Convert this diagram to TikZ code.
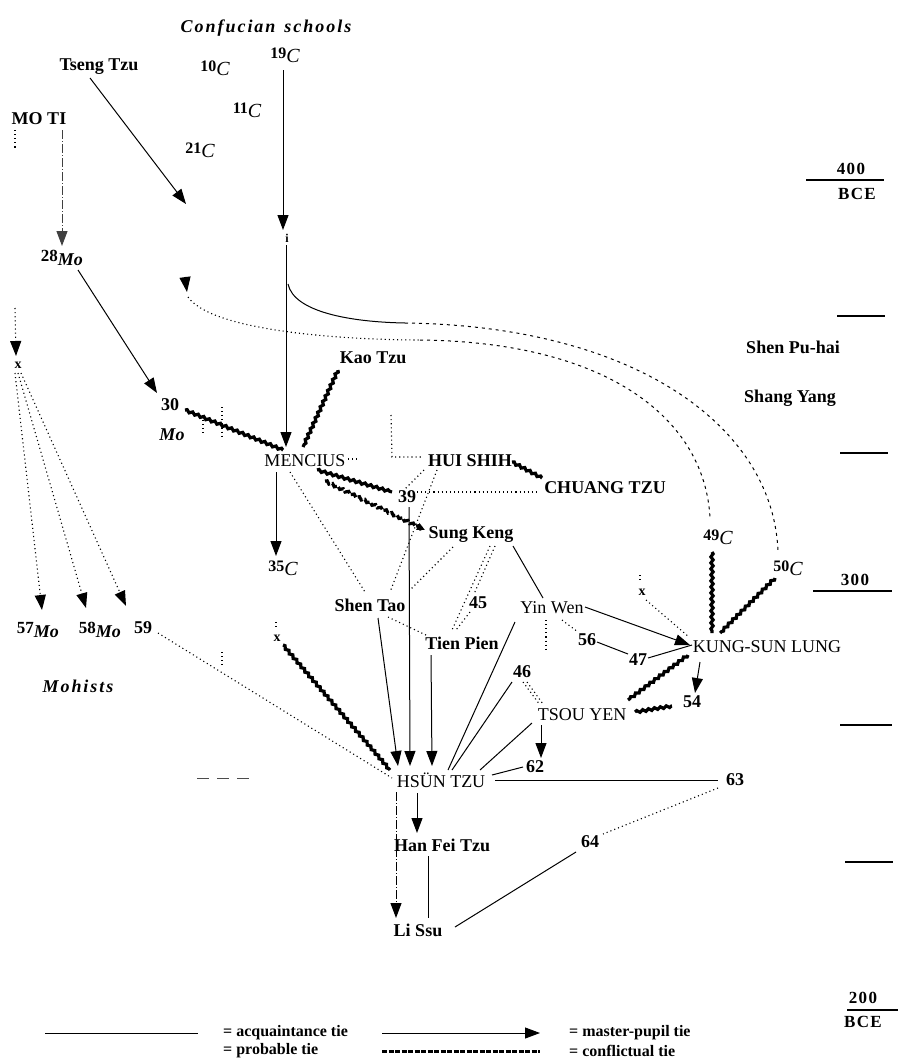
\documentclass[tikz,border=0pt]{standalone}
\usepackage{fontspec}
\setmainfont{Liberation Serif}
\usetikzlibrary{arrows.meta,decorations.pathmorphing,calc}
\newcommand\nf{\fontsize{18}{20}\selectfont}
\newcommand\bnf{\fontsize{18}{20}\selectfont\bfseries}
\newcommand\gen[2]{{\fontsize{16}{16}\selectfont\bfseries #1}\raisebox{-4pt}{\fontsize{20}{20}\selectfont\itshape #2}}
\newcommand\genm[2]{{\fontsize{17}{17}\selectfont\bfseries #1}\raisebox{-4pt}{\fontsize{18}{20}\selectfont\bfseries\itshape #2}}
\begin{document}
\begin{tikzpicture}[x=1pt,y=-1pt,
  every node/.style={inner sep=1pt},
  rn/.style={font=\nf},
  bn/.style={font=\bnf},
  xs/.style={font=\fontsize{14}{14}\selectfont\bfseries},
  spaced/.style={font=\fontsize{18}{20}\selectfont\bfseries\itshape\addfontfeature{LetterSpace=11}},
  scl/.style={font=\fontsize{17}{19}\selectfont\bfseries\addfontfeature{LetterSpace=8}},
  leg/.style={font=\fontsize{16}{17}\selectfont\bfseries, anchor=west},
  acq/.style={line width=1pt},
  mp/.style={line width=1pt,-{Triangle[length=15pt,width=11pt]}},
  prob/.style={line width=1.1pt,dash pattern=on 1.1pt off 3pt},
  probd/.style={line width=1pt,dash pattern=on 3pt off 4pt},
  dashdot/.style={line width=1pt,dash pattern=on 9pt off 2pt on 1pt off 2pt},
  conf/.style={line width=3.2pt,decorate,decoration={snake,amplitude=1.1pt,segment length=6pt}},
  scaletick/.style={line width=1.2pt}]
\useasboundingbox (0,0) rectangle (900,1060);

% ---------- nodes ----------
\node[spaced] (conf) at (266,28) {Confucian\enspace schools};
\node (c19) at (285,55) {\gen{19}{C}};
\node[bn] (tseng) at (99,67) {Tseng Tzu};
\node (c10) at (215,68) {\gen{10}{C}};
\node (c11) at (247,110) {\gen{11}{C}};
\node (c21) at (200,150) {\gen{21}{C}};
\node[bn] (moti) at (39,119) {MO TI};
\node (mo28) at (62,258) {\genm{28}{Mo}};
\node[font=\fontsize{12}{12}\selectfont\bfseries] (iota) at (287,238) {i};
\node[xs] (xa) at (18,365) {x};
\node[bn] (n30) at (170,405) {30};
\node[font=\fontsize{18}{20}\selectfont\bfseries\itshape] (mo30) at (172,435) {Mo};
\node[bn] (kao) at (373,358) {Kao Tzu};
\node[rn] (mencius) at (305,461) {MENCIUS};
\node[bn] (hui) at (470,461) {HUI SHIH};
\node[bn] (chuang) at (605,488) {CHUANG TZU};
\node[bn] (n39) at (407,497) {39};
\node[bn] (sung) at (471,535) {Sung Keng};
\node (c35) at (283,568) {\gen{35}{C}};
\node[bn] (shentao) at (370,605) {Shen Tao};
\node[bn] (n45) at (478,603) {45};
\node[bn] (tien) at (462,643) {Tien Pien};
\node[rn] (yin) at (552,608) {Yin Wen};
\node[bn] (n56) at (587,640) {56};
\node[bn] (n47) at (638,660) {47};
\node[rn] (ksl) at (767,647) {KUNG-SUN LUNG};
\node[xs] (xc) at (642,592) {x};
\node (c49) at (718,537) {\gen{49}{C}};
\node (c50) at (788,568) {\gen{50}{C}};
\node[bn] (n46) at (522,672) {46};
\node[rn] (tsou) at (582,715) {TSOU YEN};
\node[bn] (n54) at (692,702) {54};
\node[bn] (n62) at (535,767) {62};
\node[rn] (hsun) at (441,780) {HSÜN TZU};
\node[bn] (n63) at (735,780) {63};
\node[bn] (n64) at (590,842) {64};
\node[bn] (hanfei) at (442,845) {Han Fei Tzu};
\node[bn] (lissu) at (418,930) {Li Ssu};
\node[xs] (xb) at (277,638) {x};
\node (m57) at (38,630) {\genm{57}{Mo}};
\node (m58) at (100,630) {\genm{58}{Mo}};
\node[bn] (n59) at (143,628) {59};
\node[spaced] (mohists) at (78,686) {Mohists};
\node[bn] (shenpu) at (793,347) {Shen Pu-hai};
\node[bn] (shang) at (790,398) {Shang Yang};

% ---------- time scale ----------
\node[scl] (y400) at (851,169) {400};
\node[scl] (b400) at (857,194) {BCE};
\draw[scaletick] (806,180) -- (884,180);
\draw[scaletick] (837,316) -- (885,316);
\draw[scaletick] (840,453) -- (888,453);
\node[scl] (y300) at (855,580) {300};
\draw[scaletick] (813,591) -- (892,591);
\draw[scaletick] (840,725) -- (892,725);
\draw[scaletick] (845,862) -- (893,862);
\node[scl] (y200) at (863,998) {200};
\draw[scaletick] (847,1010) -- (898,1010);
\node[scl] (b200) at (863,1022) {BCE};
\draw[line width=1pt, black!70, dash pattern=on 12pt off 8pt] (197,778) -- (250,778);

% ---------- helper coordinates ----------
\coordinate (t21) at (186,204);
\coordinate (arcA) at (288,284);
\coordinate (arcB) at (405,323);
\coordinate (arcC0) at (185,277);
\coordinate (arcC) at (187,292);
\coordinate (arcD) at (420,340);

% ---------- connectors ----------
\draw[mp] ($(tseng)+(-9,11)$) -- (t21);
\draw[dashdot, black!75, -{Triangle[length=15pt,width=11pt]}] ($(moti)+(23,11)$) -- ($(mo28)+(0,-12)$);
\draw[prob] ($(moti)+(-24,11)$) -- ($(moti)+(-24,31)$);
\draw[mp] ($(c19)+(-2,15)$) -- ($(iota)+(-4,-8)$);
\draw[mp] ($(iota)+(-1,7)$) -- ($(mencius)+(-19,-14)$);

% long arcs
\draw[acq] (arcA) .. controls (294,312) and (350,322) .. (arcB);
\draw[probd] (arcB) .. controls (640,326) and (775,430) .. ($(c50)+(-10,-15)$);
\draw[mp] (arcC0) -- (arcC);
\draw[prob] ($(arcC)+(1,5)$) .. controls (215,335) and (370,340) .. (arcD);
\draw[probd] (arcD) .. controls (610,342) and (705,420) .. ($(c49)+(-8,-19)$);

\draw[mp] ($(mo28)+(16,12)$) -- ($(n30)+(-13,-12)$);
\draw[conf] ($(n30)+(15,5)$) -- ($(mencius)+(-22,-11)$);
\draw[conf] ($(kao)+(-35,12)$) -- ($(mencius)+(-2,-14)$);
\draw[mp] ($(mencius)+(-29,11)$) -- ($(c35)+(-7,-12)$);
\draw[prob] ($(mencius)+(43,-2)$) -- ($(mencius)+(55,-2)$);
\draw[prob] ($(hui)+(-79,-46)$) -- ($(hui)+(-78,-4)$) -- ($(hui)+(-48,-4)$);
\draw[conf] ($(hui)+(42,1)$) -- ($(chuang)+(-63,-10)$);
\draw[conf] ($(mencius)+(12,9)$) -- ($(n39)+(-15,-5)$);
\draw[conf, dash pattern=on 7pt off 2pt, -{Triangle[length=8pt,width=7pt]}] ($(mencius)+(20,20)$) -- ($(sung)+(-46,-5)$);
\draw[prob] ($(n39)+(10,-5)$) -- ($(chuang)+(-67,4)$);
\draw[prob] ($(hui)+(-46,9)$) -- ($(n39)+(-2,-8)$);
\draw[prob] ($(hui)+(-33,9)$) -- ($(shentao)+(20,-13)$);
\draw[mp] ($(n39)+(2,10)$) -- ($(hsun)+(-31,-14)$);
\draw[prob] ($(mencius)+(-15,11)$) -- ($(shentao)+(-5,-13)$);
\draw[prob] ($(sung)+(-18,12)$) -- ($(shentao)+(40,-15)$);
\draw[prob] ($(sung)+(19,11)$) -- ($(tien)+(-10,-13)$);
\draw[prob] ($(sung)+(24,11)$) -- ($(n45)+(-4,-9)$);
\draw[prob] ($(n45)+(-8,9)$) -- ($(tien)+(-6,-13)$);
\draw[acq] ($(sung)+(42,11)$) -- ($(yin)+(-9,-10)$);
\draw[prob] ($(shentao)+(18,12)$) -- ($(tien)+(-34,-7)$);
\draw[mp] ($(shentao)+(8,13)$) -- ($(hsun)+(-43,-14)$);
\draw[mp] ($(tien)+(-31,12)$) -- ($(hsun)+(-9,-14)$);
\draw[acq] ($(yin)+(-37,14)$) -- ($(hsun)+(7,-10)$);
\draw[acq] ($(n46)+(-10,10)$) -- ($(hsun)+(11,-10)$);
\draw[acq] ($(tsou)+(-50,8)$) -- ($(hsun)+(39,-10)$);
\draw[acq] ($(hsun)+(51,-5)$) -- ($(n62)+(-12,0)$);
\draw[mp] ($(tsou)+(-41,10)$) -- ($(n62)+(6,-9)$);
\draw[acq] ($(hsun)+(54,0)$) -- ($(n63)+(-17,0)$);
\draw[prob] ($(n63)+(-17,8)$) -- ($(n64)+(13,-8)$);
\draw[acq] ($(n64)+(-14,10)$) -- ($(lissu)+(37,-3)$);
\draw[mp] ($(hsun)+(-24,13)$) -- ($(hanfei)+(-25,-12)$);
\draw[dashdot, -{Triangle[length=15pt,width=11pt]}] ($(hsun)+(-45,12)$) -- ($(lissu)+(-22,-12)$);
\draw[acq] ($(hanfei)+(-14,11)$) -- ($(lissu)+(10,-12)$);
\draw[conf] ($(xb)+(6,7)$) -- ($(hsun)+(-51,-10)$);
\draw[prob] ($(xb)+(-1,-16)$) -- ($(xb)+(-1,-9)$);
\draw[prob] ($(n59)+(15,5)$) -- ($(hsun)+(-49,-2)$);
\draw[prob, -{Triangle[length=15pt,width=11pt]}] ($(xa)+(-3,8)$) -- ($(m57)+(4,-20)$);
\draw[prob, -{Triangle[length=15pt,width=11pt]}] ($(xa)+(0,8)$) -- ($(m58)+(-14,-22)$);
\draw[prob, -{Triangle[length=15pt,width=11pt]}] ($(xa)+(3,8)$) -- ($(n59)+(-17,-22)$);
\draw[prob, -{Triangle[length=15pt,width=11pt]}] ($(xa)+(-3,-57)$) -- ($(xa)+(-2,-9)$);
\draw[prob] ($(xc)+(4,8)$) -- ($(ksl)+(-78,-10)$);
\draw[prob] ($(xc)+(-2,-17)$) -- ($(xc)+(-2,-10)$);
\draw[mp] ($(yin)+(33,-1)$) -- ($(ksl)+(-77,-2)$);
\draw[prob] ($(yin)+(10,12)$) -- ($(n56)+(-9,-8)$);
\draw[acq] ($(n56)+(10,2)$) -- ($(n47)+(-10,-6)$);
\draw[acq] ($(n47)+(10,-2)$) -- ($(ksl)+(-75,-2)$);
\draw[conf] ($(c49)+(-6,15)$) -- ($(ksl)+(-55,-14)$);
\draw[conf] ($(c50)+(-13,10)$) -- ($(ksl)+(-47,-14)$);
\draw[conf] ($(ksl)+(-79,8)$) -- ($(tsou)+(46,-15)$);
\draw[mp] ($(ksl)+(-67,15)$) -- ($(n54)+(3,-9)$);
\draw[conf] ($(tsou)+(53,-3)$) -- ($(n54)+(-20,4)$);
\draw[prob] ($(n46)+(1,10)$) -- ($(tsou)+(-42,-10)$);
\draw[prob] ($(n46)+(5,10)$) -- ($(tsou)+(-39,-11)$);
\draw[prob] ($(yin)+(-6,12)$) -- ($(yin)+(-6,42)$);
\draw[prob] ($(n30)+(33,15)$) -- ($(n30)+(33,28)$);
\draw[prob] ($(n30)+(52,2)$) -- ($(n30)+(52,31)$);
\draw[prob] ($(n59)+(79,24)$) -- ($(n59)+(79,40)$);

% ---------- legend ----------
\node[leg] (lacq) at (222,1033) {= acquaintance tie};
\node[leg] (lmp) at (568,1033) {= master-pupil tie};
\node[leg] (lprob) at (222,1051) {= probable tie};
\node[leg] (lconf) at (568,1051) {= conflictual tie};
\draw[acq] ($(lacq.west)+(-177,0)$) -- ($(lacq.west)+(-24,0)$);
\draw[mp] ($(lmp.west)+(-186,0)$) -- ($(lmp.west)+(-28,0)$);
\draw[line width=3pt, dash pattern=on 5pt off 1.5pt] ($(lconf.west)+(-186,0)$) -- ($(lconf.west)+(-28,0)$);
\end{tikzpicture}
\end{document}
